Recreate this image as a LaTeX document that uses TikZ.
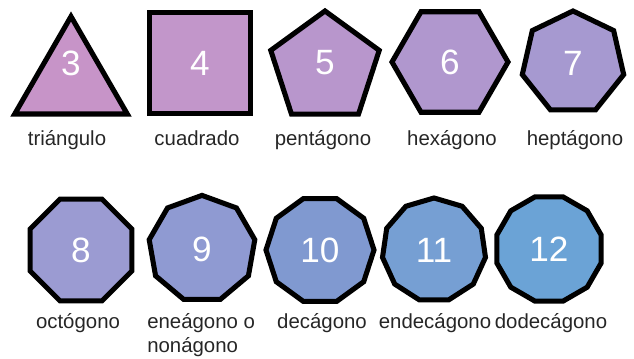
\documentclass[tikz,border=0pt]{standalone}
\usepackage{fontspec}
\setmainfont{Liberation Sans}
\usepackage{tikz}
\usetikzlibrary{shapes.geometric, positioning}
\definecolor{polythree}{RGB}{199, 148, 200}
\definecolor{polyfour}{RGB}{194, 150, 202}
\definecolor{polyfive}{RGB}{184, 150, 204}
\definecolor{polysix}{RGB}{176, 151, 206}
\definecolor{polyseven}{RGB}{166, 153, 208}
\definecolor{polyeight}{RGB}{155, 155, 210}
\definecolor{polynine}{RGB}{143, 154, 210}
\definecolor{polyten}{RGB}{128, 153, 208}
\definecolor{polyeleven}{RGB}{118, 159, 211}
\definecolor{polytwelve}{RGB}{107, 163, 214}

\begin{document}
\begin{tikzpicture}[
  x=0.025cm, y=-0.025cm,
  poly/.style={draw=black, line width=3.6pt, regular polygon, inner sep=0pt,
    text=white, font=\fontsize{25}{30}\selectfont},
  num/.style={text=white, font=\fontsize{25}{30}\selectfont, inner sep=0pt},
  lbl/.style={font=\fontsize{14.5}{17}\selectfont, text=black!85, inner sep=0pt, anchor=base}
]
\useasboundingbox (0,0) rectangle (634,358);

% Top row
\node[poly, regular polygon sides=3, minimum size=3.25cm, fill=polythree] (tri) at (71,81.5) {};
\node[num] (n3) at (71,63) {3};
\node[poly, regular polygon sides=4, minimum size=3.54cm, fill=polyfour] (sq) at (200,63) {4};
\node[poly, regular polygon sides=5, minimum size=2.85cm, fill=polyfive] (pent) at (325,68) {};
\node[num] (n5) at (325,63) {5};
\node[poly, regular polygon sides=6, minimum size=2.9cm, fill=polysix] (hex) at (450,62) {6};
\node[poly, regular polygon sides=7, minimum size=2.6cm, fill=polyseven] (hept) at (573,63) {7};

\node[lbl] (l3) at (67,145) {triángulo};
\node[lbl] (l4) at (197,145) {cuadrado};
\node[lbl] (l5) at (323,145) {pentágono};
\node[lbl] (l6) at (452,145) {hexágono};
\node[lbl] (l7) at (575,145) {heptágono};

% Bottom row
\node[poly, regular polygon sides=8, minimum size=2.75cm, fill=polyeight] (oct) at (81,250) {8};
\node[poly, regular polygon sides=9, minimum size=2.68cm, fill=polynine] (enea) at (202,249) {9};
\node[poly, regular polygon sides=10, minimum size=2.7cm, fill=polyten] (dec) at (320,250) {10};
\node[poly, regular polygon sides=11, minimum size=2.6cm, fill=polyeleven] (endec) at (434,250) {11};
\node[poly, regular polygon sides=12, minimum size=2.7cm, fill=polytwelve] (dodec) at (549,249) {12};

\node[lbl] (l8) at (78,328) {octógono};
\node[lbl, align=left, anchor=base west] (l9) at (147,352) {eneágono o\\nonágono};
\node[lbl] (l10) at (322,328) {decágono};
\node[lbl] (l11) at (435,328) {endecágono};
\node[lbl] (l12) at (551,328) {dodecágono};

\end{tikzpicture}
\end{document}
